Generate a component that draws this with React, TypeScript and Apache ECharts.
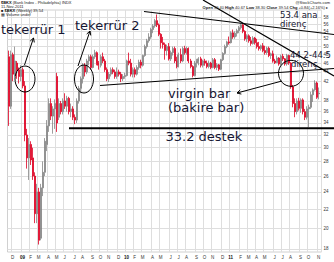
import { useEffect, useRef } from 'react';
import * as echarts from 'echarts';

// first Monday of the displayed weeks (week ending 21-Nov-2008)
const weekStartUTC = Date.UTC(2008, 10, 17);
const slotCount = 157;

const opens = [
  47.5, 37, 48, 43.5, 46, 44.5, 43, 44.5, 41, 32, 28.5, 30.5, 28.5, 26, 21.5, 24, 19, 24.5, 26.5, 30.5,
  33.5, 37.5, 35.2, 36.5, 43, 35, 37.5, 36, 38, 37, 38.5, 36, 36.5, 35, 34.5, 38, 40.5, 42.5, 45.5, 44,
  46.5, 47.5, 45, 47.5, 48.5, 46, 45.5, 47.5, 46.5, 44.5, 42.5, 43.5, 44.5, 44, 43, 44, 43.5, 42.5, 43, 43.2,
  46.5, 46, 43.5, 44.5, 43.5, 45, 46.2, 45.5, 47.8, 50, 51.5, 52.5, 54.5, 55.5, 57, 55.8, 53.2, 51, 50.5, 49,
  50, 47, 48.5, 49.5, 46.5, 45.2, 48, 46.5, 49.5, 48.5, 49.5, 46.5, 45.2, 43.2, 46, 46.5, 47, 45.5, 46.5, 46,
  45.2, 46, 45, 46.8, 45, 45.6, 44.6, 46.8, 48.3, 50, 51.2, 51, 53.6, 52.5, 53.5, 54.2, 55, 55.8, 54, 52,
  52.8, 51.5, 50.8, 52.2, 51, 50, 49.5, 50.2, 49, 48.5, 49.6, 47.8, 48.2, 46.5, 46.1, 47.2, 45.8, 47.6, 47, 45.8,
  47.8, 46, 40.8, 37.5, 36, 38, 36.6, 38.2, 36, 35, 36.5, 36.8, 39.2, 40.2, 41.6, 39.4,
];
const highs = [
  49, 49, 48.5, 50, 46.5, 45, 45.5, 45, 42, 33, 31.5, 31, 30, 26.5, 25, 24.5, 25, 28, 31.5, 34.5,
  38.5, 38.5, 37, 38.3, 43.8, 38.5, 38, 38.5, 39.5, 39, 38.8, 37.5, 37, 35.5, 38.5, 41, 43, 46, 46, 47,
  48, 48, 48, 49.2, 48.8, 46.5, 48, 48.5, 47, 45, 44, 45, 45, 44.5, 45, 44.5, 44, 43.5, 43.8, 46.8,
  48.5, 47, 45, 45, 45.5, 46.8, 46.8, 48, 50.5, 52, 53.5, 55, 56, 57.5, 58.8, 56.2, 53.5, 52.5, 51, 50.5,
  50.9, 49, 50, 50, 47.5, 48.5, 49.5, 50, 50.2, 50, 49.8, 47, 45.5, 46.5, 47, 47.4, 47.5, 46.8, 47, 46.6,
  46.6, 46.3, 47.2, 47.2, 46, 45.8, 47, 48.6, 50.5, 51.5, 52.6, 54, 54.5, 54, 54.7, 55.5, 56.3, 56, 54.3, 53.2,
  53.2, 52.5, 52.7, 52.5, 52, 51.2, 50.5, 50.9, 50.2, 50, 50, 48.5, 49, 47, 47.8, 47.4, 48, 48.2, 47.2, 48.2,
  48, 46.2, 41.2, 38.5, 38.5, 38.6, 38.5, 38.5, 36.5, 37, 37.3, 39.8, 40.5, 42.2, 41.9, 40.67,
];
const lows = [
  33.5, 36.5, 42, 43, 42.5, 41.5, 42, 40.5, 31, 27, 25.5, 27.5, 25.5, 20.5, 20.5, 18.4, 18.8, 23.5, 26, 29.5,
  32.5, 34.5, 32.2, 33, 32.5, 34.5, 35.5, 35.5, 36.5, 36, 35.5, 35, 34.5, 33.8, 34, 37.5, 39.5, 41.5, 43, 43.5,
  45.5, 44.5, 44.8, 47, 45.5, 44.5, 45, 46, 44, 42, 41.8, 43, 43.5, 42.5, 42.5, 43, 41.8, 42, 42.5, 43,
  45.5, 43, 42.8, 42.8, 43.2, 44.5, 44.8, 45.2, 47.5, 49.5, 51, 52, 53.5, 55, 55.2, 52.7, 49.5, 49.5, 46.8, 47.8,
  46.6, 46.5, 47.8, 46, 44.8, 45, 46, 46.2, 48, 48, 46, 44.8, 42.8, 43, 45, 45.5, 45, 45, 45.4, 44.8,
  44.8, 44.6, 44.8, 44.6, 44.4, 44.2, 44.4, 46.5, 48, 49.6, 50.5, 50.8, 52, 52, 52.6, 53.5, 54.5, 53.5, 51.5, 51.2,
  51, 50.2, 50.5, 50.5, 49.5, 49, 49, 48.6, 48, 48, 47.4, 47, 46.1, 45.8, 46, 45.4, 45.5, 46.5, 45.4, 45.4,
  45.6, 40.4, 36.8, 35, 35.5, 36.2, 35.8, 35.5, 34.5, 34.6, 33.3, 36.5, 37.8, 40, 38.4, 38.3,
];
const closes = [
  37, 48, 43.5, 46.5, 44.5, 43, 44.5, 41, 32, 28.5, 30.5, 28.2, 26, 21.5, 24, 18.8, 24.5, 26.5, 31, 33.5,
  37.5, 35.2, 36.5, 37.5, 34, 37.5, 36, 38, 37, 38.5, 36, 36.5, 35, 34.5, 38, 40.5, 42.5, 45.5, 44, 46.5,
  47.5, 45, 47.5, 48.5, 46, 45.5, 47.5, 46.5, 44.5, 42.5, 43.5, 44.5, 44, 43, 44, 43.5, 42.5, 43, 43.2, 46.5,
  46, 43.5, 44.5, 43.5, 45, 46.2, 45.5, 47.8, 50, 51.5, 52.5, 54.5, 55.5, 57, 55.8, 53.2, 51, 50.5, 49, 50,
  47, 48.5, 49.5, 46.5, 45.2, 48, 46.5, 49.5, 48.5, 49.5, 46.5, 45.2, 43.2, 46, 46.5, 47, 45.5, 46.5, 46, 45.2,
  46, 45, 46.8, 45, 45.6, 44.6, 46.8, 48.3, 50, 51.2, 51, 53.6, 52.5, 53.5, 54.2, 55, 55.8, 54, 52, 52.8,
  51.5, 50.8, 52.2, 51, 50, 49.5, 50.2, 49, 48.5, 49.6, 47.8, 48.2, 46.5, 46.1, 47.2, 45.8, 47.6, 47, 45.8, 47.8,
  46, 40.8, 37.5, 36, 38, 36.6, 38.2, 36, 35, 36.5, 36.8, 39.2, 40.2, 41.6, 38.7, 39.54,
];

const yTicks = [18, 20, 22, 24, 26, 28, 30, 32, 34, 36, 38, 40, 42, 44, 46, 48, 50, 52, 54, 56, 58];
// the 40 label sits under the last-price tag in the reference
const yTickLabels = [18, 20, 22, 24, 26, 28, 30, 32, 34, 36, 38, 42, 44, 46, 48, 50, 52, 54, 56, 58];
const monthLetters = ['J', 'F', 'M', 'A', 'M', 'J', 'J', 'A', 'S', 'O', 'N', 'D'];
const yMinPrice = 17.72;
const yMaxPrice = 60.15;
const lastClose = 39.54;

const ink = '#000';
const noteColor = '#161633';
const noteFont = '"DejaVu Sans", sans-serif';
const smallFont = '"Liberation Sans", Arial, sans-serif';

function arrow(x1: number, y1: number, x2: number, y2: number) {
  const a = Math.atan2(y2 - y1, x2 - x1);
  const L = 4.5;
  const s = 0.5;
  return [
    { type: 'line', z: 100, shape: { x1, y1, x2, y2 }, style: { stroke: ink, lineWidth: 1 } },
    {
      type: 'polyline', z: 100,
      shape: {
        points: [
          [x2 - L * Math.cos(a - s), y2 - L * Math.sin(a - s)],
          [x2, y2],
          [x2 - L * Math.cos(a + s), y2 - L * Math.sin(a + s)],
        ],
      },
      style: { stroke: ink, lineWidth: 1, fill: 'none' },
    },
  ];
}

function note(text: string, x: number, baseline: number, size: number) {
  return {
    type: 'text', z: 101, x, y: baseline - 0.36 * size,
    style: { text, fontSize: size, lineHeight: size, fontFamily: noteFont, fill: noteColor, verticalAlign: 'middle', align: 'left' },
  };
}

function header(text: string, x: number, y: number, align: string) {
  return {
    type: 'text', z: 101, x, y,
    style: {
      text, fontSize: 4, lineHeight: 4, fontFamily: smallFont, fill: '#222',
      verticalAlign: 'middle', align,
      rich: { b: { fontWeight: 'bold', fontSize: 4, lineHeight: 4, fontFamily: smallFont, fill: '#111' } },
    },
  };
}

export default function App() {
  const ref = useRef<HTMLDivElement>(null);
  useEffect(() => {
    if (!ref.current) return;
    const chart = echarts.init(ref.current, undefined, { renderer: 'svg', width: 334, height: 262 });

    const cats: string[] = [];
    for (let i = 0; i < slotCount; i++) {
      cats.push(new Date(weekStartUTC + i * 7 * 86400000).toISOString().slice(0, 10));
    }
    const monthStart = cats.map((c, i) => i > 0 && c.slice(5, 7) !== cats[i - 1].slice(5, 7));
    const candleData = opens.map((o, i) => [Math.log(o), Math.log(closes[i]), Math.log(lows[i]), Math.log(highs[i])]);
    const tickLn = yTicks.map((v) => Math.log(v));
    const labelLn = yTickLabels.map((v) => Math.log(v));

    const option: any = {
      animation: false,
      backgroundColor: '#fff',
      textStyle: { fontFamily: smallFont },
      grid: { left: 7.5, right: 12.5, top: 10, bottom: 10, show: true, borderColor: '#c4c4c4', borderWidth: 0.8, backgroundColor: '#fff' },
      xAxis: {
        type: 'category', data: cats, boundaryGap: true,
        axisLine: { show: false }, axisTick: { show: false },
        axisLabel: {
          interval: (i: number) => monthStart[i],
          formatter: (v: string) => {
            const m = +v.slice(5, 7);
            return m === 1 ? '{y|' + v.slice(2, 4) + '}' : monthLetters[m - 1];
          },
          fontSize: 4.5, color: '#333', margin: 3,
          rich: { y: { fontWeight: 'bold', fontSize: 4.5, color: '#111' } },
        },
        splitLine: { show: true, interval: (i: number) => monthStart[i], lineStyle: { color: '#dedede', width: 1 } },
      },
      yAxis: {
        type: 'value', position: 'right', scale: true,
        min: Math.log(yMinPrice), max: Math.log(yMaxPrice),
        axisLine: { show: false },
        axisTick: { show: false, customValues: tickLn },
        axisLabel: {
          customValues: labelLn,
          formatter: (v: number) => String(Math.round(Math.exp(v))),
          fontSize: 4.5, color: '#333', margin: 2,
        },
        splitLine: { show: true, lineStyle: { color: '#dedede', width: 1 } },
      },
      series: [
        {
          type: 'candlestick',
          data: candleData,
          barWidth: 1.5,
          itemStyle: { color: '#858585', color0: '#dd0022', borderColor: '#858585', borderColor0: '#dd0022', borderWidth: 0.8 },
          markLine: {
            silent: true, symbol: ['none', 'none'],
            lineStyle: { opacity: 0 },
            label: {
              show: true, position: 'end', distance: 1, formatter: String(lastClose),
              fontSize: 4.5, color: '#000', backgroundColor: '#fff', borderColor: '#555', borderWidth: 0.6, padding: [1.5, 1],
            },
            data: [{ yAxis: Math.log(lastClose) }],
          },
        },
      ],
      graphic: [
        // trend lines and support
        { type: 'line', z: 100, shape: { x1: 144, y1: 11.5, x2: 334, y2: 34.5 }, style: { stroke: ink, lineWidth: 1.2 } },
        { type: 'line', z: 100, shape: { x1: 203, y1: 0, x2: 334, y2: 76 }, style: { stroke: ink, lineWidth: 1.2 } },
        { type: 'line', z: 100, shape: { x1: 100, y1: 85.5, x2: 334, y2: 68.5 }, style: { stroke: ink, lineWidth: 1.2 } },
        { type: 'line', z: 100, shape: { x1: 69, y1: 128.3, x2: 334, y2: 128.3 }, style: { stroke: ink, lineWidth: 2 } },
        // circles
        { type: 'ellipse', z: 100, shape: { cx: 25, cy: 79, rx: 10, ry: 13 }, style: { fill: 'none', stroke: ink, lineWidth: 1 } },
        { type: 'ellipse', z: 100, shape: { cx: 84, cy: 79, rx: 9.5, ry: 14 }, style: { fill: 'none', stroke: ink, lineWidth: 1 } },
        { type: 'ellipse', z: 100, shape: { cx: 291, cy: 73.3, rx: 12.5, ry: 13 }, style: { fill: 'none', stroke: ink, lineWidth: 1 } },
        // arrows
        ...arrow(24.5, 65, 33.5, 38),
        ...arrow(78, 66, 90, 31),
        ...arrow(282, 81, 237, 93),
        // notes
        note('tekerrür 1', 1, 34.4, 13),
        note('tekerrür 2', 75, 30, 13),
        note('virgin bar', 168, 98.4, 13),
        note('(bakire bar)', 168, 112.3, 13),
        note('33.2 destek', 165.5, 141.5, 13),
        note('53.4 ana', 280, 18.3, 8.5),
        note('direnç', 280, 27.2, 8.5),
        note('44.2-44.5', 290, 57.8, 8.5),
        note('direnç', 291, 66.8, 8.5),
        // header
        header('{b|$BKX} (Bank Index - Philadelphia) INDX', 1, 2.3, 'left'),
        header('11-Nov-2011', 1, 6.3, 'left'),
        header('\u25A0 {b|$BKX} (Weekly) 39.54', 1, 10.3, 'left'),
        header('\u25A6 Volume undef', 1, 14.3, 'left'),
        header('@StockCharts.com', 330, 2.5, 'right'),
        header('{b|Open} 39.40 {b|High} 40.67 {b|Low} 38.30 {b|Close} 39.54 {b|Chg} +0.84(+2.16%) \u25B8', 328, 7.3, 'right'),
      ],
    };
    chart.setOption(option);
    return () => chart.dispose();
  }, []);
  return <div ref={ref} style={{ position: 'absolute', left: 0, top: 0, width: 334, height: 262 }} />;
}
